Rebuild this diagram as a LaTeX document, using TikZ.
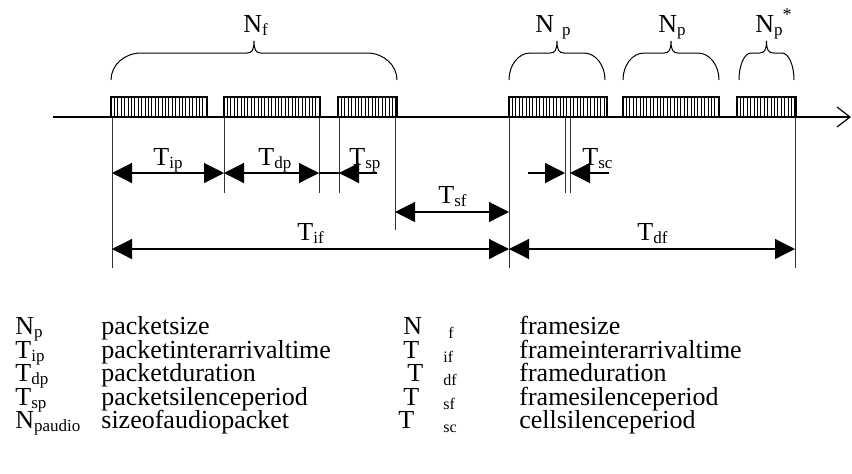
\documentclass[tikz,border=0pt]{standalone}
\usepackage{fontspec}
\setmainfont{Liberation Serif}
\usetikzlibrary{arrows.meta}
\newcommand\lsub[1]{\raisebox{-1.6pt}{\fontsize{8.5}{10}\selectfont #1}}
\newcommand\rsub[1]{{\fontsize{8}{10}\selectfont #1}}
\newcommand\mybrace[2]{%
  \pgfmathsetmacro\bm{(#1+#2)/2}%
  \pgfmathsetmacro\br{min(30,0.22*(#2-#1))}%
  \draw[bracel] (#1,80) .. controls (#1,65) and (#1+0.45*\br,53) .. (#1+\br,53) -- (\bm-7,53)
    .. controls (\bm-2,53) and (\bm,50) .. (\bm,41)
    .. controls (\bm,50) and (\bm+2,53) .. (\bm+7,53) -- (#2-\br,53)
    .. controls (#2-0.45*\br,53) and (#2,65) .. (#2,80);}
\tikzset{
  lbl/.style={font=\fontsize{13}{15}\selectfont, inner sep=0pt, anchor=base west},
  bracel/.style={line width=0.5pt},
  ext/.style={line width=0.5pt, black!80},
  dim/.style={line width=0.6pt, {Triangle[length=10pt,width=10pt]}-{Triangle[length=10pt,width=10pt]}},
  half/.style={line width=0.6pt, -{Triangle[length=10pt,width=10pt]}},
  plain/.style={line width=0.6pt},
  axis/.style={line width=1pt, -{Straight Barb[length=6.5pt,width=10pt,line width=0.6pt]}},
}
\begin{document}
\begin{tikzpicture}[x=0.5pt,y=-0.5pt]
\useasboundingbox (0,0) rectangle (852,473);
% axis
\coordinate (ax0) at (53,117);
\coordinate (ax1) at (851,117);
\draw[axis] (ax0) -- (ax1);
% packets
\foreach \a/\b in {111/207,224/320,338/397,509/607,623/719,737/796}{
  \begin{scope}
    \clip (\a,97) rectangle (\b,117);
    \foreach \h in {0,3.4,...,100} \draw[line width=0.4pt] (\a+\h,97) -- (\a+\h,117);
  \end{scope}
  \draw[line width=1.2pt] (\a,97) rectangle (\b,117);
}
% braces
\mybrace{111}{397}
\mybrace{509}{605}
\mybrace{623}{719}
\mybrace{739}{794}
\node[lbl] (nf) at (243,32) {N\lsub{f}};
\node[lbl] (np1) at (535,32) {N\hspace{4pt}\lsub{p}};
\node[lbl] (np2) at (658,32) {N\lsub{p}};
\node[lbl] (np3) at (755,32) {N\lsub{p}\raisebox{6pt}{\fontsize{9}{10}\selectfont *}};
% extension lines
\foreach \x/\y [count=\i] in {112/268,224/193,319/193,339/193,395/230,509/268,795/268,565/193,570/193}{
  \coordinate (t\i) at (\x,117);
  \coordinate (b\i) at (\x,\y);
  \draw[ext] (t\i) -- (b\i);
}
% dimension lines
\coordinate (ip1) at (112,173); \coordinate (ip2) at (224,173);
\coordinate (dp2) at (319,173); \coordinate (sp1) at (339,173); \coordinate (sp2) at (377,173);
\coordinate (sf1) at (395,212); \coordinate (sf2) at (509,212);
\coordinate (if1) at (112,249); \coordinate (if2) at (509,249); \coordinate (df2) at (795,249);
\coordinate (sc0) at (528,173); \coordinate (sc1) at (565,173); \coordinate (sc2) at (570,173); \coordinate (sc3) at (609,173);
\draw[dim] (ip1) -- (ip2);
\draw[dim] (ip2) -- (dp2);
\draw[plain] (dp2) -- (sp1);
\draw[half] (sp2) -- (sp1);
\draw[dim] (sf1) -- (sf2);
\draw[dim] (if1) -- (if2);
\draw[dim] (if2) -- (df2);
\draw[half] (sc0) -- (sc1);
\draw[half] (sc3) -- (sc2);
\node[lbl] (tip) at (153,165) {T\lsub{ip}};
\node[lbl] (tdp) at (258,165) {T\lsub{dp}};
\node[lbl] (tsp) at (349,165) {T\lsub{sp}};
\node[lbl] (tsc) at (582,165) {T\lsub{sc}};
\node[lbl] (tsf) at (438,203) {T\lsub{sf}};
\node[lbl] (tif) at (297,240) {T\lsub{if}};
\node[lbl] (tdf) at (637,240) {T\lsub{df}};
% legend left
\node[lbl] (l1) at (15,334) {N\lsub{p}};
\node[lbl] (l2) at (15,358) {T\lsub{ip}};
\node[lbl] (l3) at (15,381) {T\lsub{dp}};
\node[lbl] (l4) at (15,405) {T\lsub{sp}};
\node[lbl] (l5) at (15,428) {N\lsub{paudio}};
\node[lbl] (d1) at (101,334) {packetsize};
\node[lbl] (d2) at (101,358) {packetinterarrivaltime};
\node[lbl] (d3) at (101,381) {packetduration};
\node[lbl] (d4) at (101,405) {packetsilenceperiod};
\node[lbl] (d5) at (101,428) {sizeofaudiopacket};
% legend right
\node[lbl] (r1) at (403,334) {N};
\node[lbl] (r2) at (403,358) {T};
\node[lbl] (r3) at (407,381) {T};
\node[lbl] (r4) at (403,405) {T};
\node[lbl] (r5) at (398,428) {T};
\node[lbl] (s1) at (448,338.5) {\rsub{f}};
\node[lbl] (s2) at (443,362.5) {\rsub{if}};
\node[lbl] (s3) at (443,385.5) {\rsub{df}};
\node[lbl] (s4) at (443,409.5) {\rsub{sf}};
\node[lbl] (s5) at (443,432.5) {\rsub{sc}};
\node[lbl] (e1) at (519,334) {framesize};
\node[lbl] (e2) at (519,358) {frameinterarrivaltime};
\node[lbl] (e3) at (519,381) {frameduration};
\node[lbl] (e4) at (519,405) {framesilenceperiod};
\node[lbl] (e5) at (519,428) {cellsilenceperiod};
\end{tikzpicture}
\end{document}
